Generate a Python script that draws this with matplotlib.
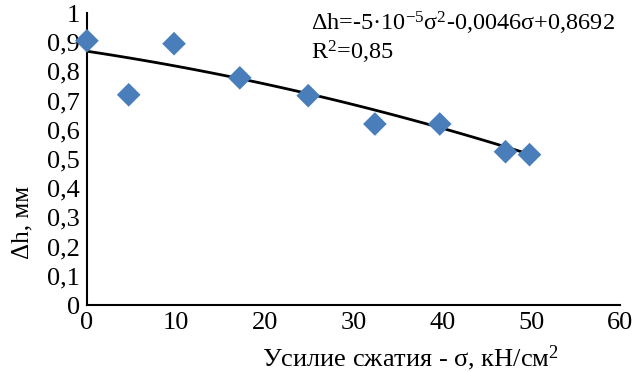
import numpy as np
import matplotlib.pyplot as plt

plt.rcParams['font.family'] = ['Liberation Serif', 'DejaVu Serif']
plt.rcParams['mathtext.fontset'] = 'custom'
plt.rcParams['mathtext.rm'] = 'Liberation Serif'
plt.rcParams['mathtext.it'] = 'Liberation Serif'

# data
sigma = [0, 4.7, 9.8, 17.2, 24.9, 32.4, 39.7, 47.1, 49.8]
dh = [0.905, 0.72, 0.895, 0.778, 0.717, 0.62, 0.62, 0.525, 0.515]

# trend line coefficients printed on the chart
coef = [-5e-5, -0.0046, 0.8692]

fig = plt.figure(figsize=(6.44, 3.72), dpi=100)
ax = fig.add_axes([0.135, 0.18, 0.828, 0.785])

xs = np.linspace(0, 50, 100)
ax.plot(xs, np.polyval(coef, xs), color='black', lw=2, zorder=2)
ax.scatter(sigma, dh, marker='D', s=145, color='#4a7ebb', edgecolors='none', zorder=3, clip_on=False)

ax.set_xlim(0, 60)
ax.set_ylim(0, 1)
ax.set_xticks(range(0, 61, 10))
ax.set_yticks(np.arange(0, 1.01, 0.1))
ax.set_yticklabels(['0', '0,1', '0,2', '0,3', '0,4', '0,5', '0,6', '0,7', '0,8', '0,9', '1'])
ax.tick_params(length=0, labelsize=19, pad=5)
ax.spines['top'].set_visible(False)
ax.spines['right'].set_visible(False)
ax.spines['left'].set_linewidth(1.5)
ax.spines['bottom'].set_linewidth(1.5)

ax.set_xlabel('Усилие сжатия - σ, кН/см$^2$', fontsize=19)
ax.xaxis.set_label_coords(0.606, -0.13)
ax.set_ylabel('Δh, мм', fontsize=18)
ax.yaxis.set_label_coords(-0.10, 0.284)

ax.text(0.42, 0.965, 'Δh=-5·10$^{-5}$σ$^2$-0,0046σ+0,8692', transform=ax.transAxes, fontsize=17.5, va='center')
ax.text(0.42, 0.865, 'R$^2$=0,85', transform=ax.transAxes, fontsize=17.5, va='center')

fig.savefig('out.png', dpi=100)
